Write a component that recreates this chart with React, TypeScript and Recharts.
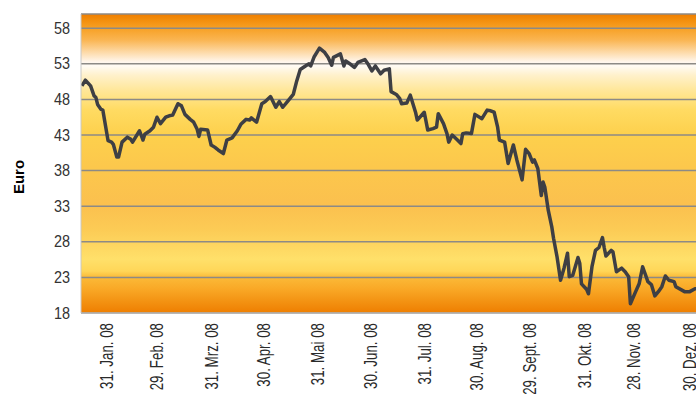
import React from "react";
import { LineChart, Line, XAxis, YAxis, CartesianGrid } from "recharts";

// Day of year (2008) and closing price in Euro
const days = [
  17, 19, 22, 24, 25, 26, 28, 29, 32, 34, 35, 37, 38, 40, 43, 45, 46, 50, 52, 53,
  56, 58, 60, 62, 65, 67, 69, 72, 74, 76, 79, 81, 83, 84, 85, 89, 91, 93, 95, 98,
  100, 103, 106, 108, 111, 113, 114, 117, 120, 122, 125, 128, 130, 132, 135, 138, 140, 142, 145, 147,
  148, 150, 153, 156, 158, 160, 161, 165, 167, 168, 171, 173, 175, 179, 181, 183, 185, 188, 190, 193,
  194, 197, 199, 200, 203, 205, 208, 209, 213, 215, 218, 220, 221, 224, 226, 227, 229, 232, 234, 235,
  237, 240, 242, 246, 249, 251, 253, 255, 256, 259, 261, 264, 266, 269, 271, 273, 275, 276, 278, 280,
  281, 282, 284, 286, 287, 289, 291, 293, 295, 296, 298, 301, 302, 303, 306, 307, 309, 311, 313, 315,
  316, 317, 320, 321, 323, 326, 328, 330, 331, 334, 336, 338, 341, 343, 345, 347, 349, 351, 353, 356,
  357, 362, 365, 368, 371,
];

const prices = [
  49.9, 50.7, 49.9, 48.5, 48.3, 47.3, 46.6, 46.5, 42.2, 42.0, 41.7, 39.9, 39.9, 42.0, 42.7, 42.4, 42.0, 43.6, 42.3, 43.1,
  43.6, 44.1, 45.5, 44.6, 45.5, 45.7, 45.8, 47.4, 47.1, 45.9, 45.2, 44.8, 43.8, 42.8, 43.8, 43.7, 41.6, 41.3, 40.9, 40.4,
  42.3, 42.6, 43.6, 44.5, 45.2, 45.1, 45.4, 44.8, 47.4, 47.7, 48.4, 46.9, 47.7, 46.9, 47.8, 48.7, 50.6, 52.2, 52.7, 53.0,
  52.7, 54.0, 55.2, 54.6, 53.9, 52.8, 53.9, 54.4, 52.7, 53.4, 52.9, 52.5, 53.2, 53.6, 52.9, 52.0, 52.7, 51.6, 52.1, 52.3,
  49.1, 48.7, 48.1, 47.4, 47.5, 48.6, 46.2, 45.1, 46.2, 43.7, 43.9, 44.1, 46.0, 44.6, 43.2, 42.0, 43.0, 42.3, 41.8, 43.2,
  43.3, 43.2, 45.9, 45.3, 46.5, 46.4, 46.2, 44.1, 42.3, 42.0, 39.0, 41.6, 39.5, 36.7, 41.0, 40.4, 39.2, 39.5, 38.3, 34.5,
  36.4, 35.7, 32.4, 30.1, 28.5, 25.9, 22.6, 24.3, 26.4, 23.1, 23.3, 25.8, 25.0, 22.1, 21.3, 20.7, 24.5, 26.8, 27.2, 28.6,
  27.2, 26.0, 26.8, 26.6, 23.8, 24.3, 23.8, 23.1, 19.3, 21.0, 22.1, 24.5, 22.4, 22.0, 20.4, 21.0, 21.7, 23.2, 22.6, 22.4,
  21.7, 21.0, 21.0, 21.4, 21.5,
];

const labelDays = [31, 60, 91, 121, 152, 182, 213, 243, 273, 305, 333, 365];
const labelTexts = [
  "31. Jan. 08",
  "29. Feb. 08",
  "31. Mrz. 08",
  "30. Apr. 08",
  "31. Mai 08",
  "30. Jun. 08",
  "31. Jul. 08",
  "30. Aug. 08",
  "29. Sept. 08",
  "31. Okt. 08",
  "28. Nov. 08",
  "30. Dez. 08",
];

const yTicks = [18, 23, 28, 33, 38, 43, 48, 53, 58];

const data = days.map((d, i) => ({ day: d, price: prices[i] }));

const sans = "'Liberation Sans', Arial, sans-serif";

// narrow look: regular sans squeezed along the text direction
const DateTick = (props: any) => {
  const { x, y, payload } = props;
  const idx = labelDays.indexOf(payload.value);
  return (
    <g transform={`translate(${x},${y}) rotate(-90)`}>
      <text
        x={0}
        y={0}
        transform="scale(0.74,1)"
        textAnchor="end"
        dy="0.36em"
        fontSize={18}
        fontFamily={sans}
        fill="#2a2a2a"
      >
        {labelTexts[idx]}
      </text>
    </g>
  );
};

const ValueTick = (props: any) => {
  const { x, y, payload } = props;
  return (
    <g transform={`translate(${x},${y})`}>
      <text
        x={0}
        y={0}
        transform="scale(0.85,1)"
        textAnchor="end"
        dy="0.33em"
        fontSize={17}
        fontFamily={sans}
        fill="#333"
      >
        {payload.value}
      </text>
    </g>
  );
};

export default function App() {
  return (
    <div
      style={{
        position: "fixed",
        left: 0,
        top: 0,
        width: 696,
        height: 397,
        overflow: "hidden",
        background: "#fff",
      }}
    >
      <div
        style={{
          position: "absolute",
          left: 18,
          top: 177,
          transform: "translate(-50%, -50%) rotate(-90deg)",
          fontFamily: sans,
          fontWeight: "bold",
          fontSize: 15,
          color: "#000",
          whiteSpace: "nowrap",
        }}
      >
        Euro
      </div>
      <LineChart
        width={720}
        height={397}
        data={data}
        margin={{ top: 14, right: 4, bottom: 0, left: 0 }}
      >
        <defs>
          <linearGradient id="bg" x1="0" y1="0" x2="0" y2="1">
            <stop offset="0" stopColor="#ee7d00" />
            <stop offset="0.02" stopColor="#f38e0c" />
            <stop offset="0.047" stopColor="#f7a024" />
            <stop offset="0.087" stopColor="#fab552" />
            <stop offset="0.127" stopColor="#fdd9a6" />
            <stop offset="0.16" stopColor="#fff6ec" />
            <stop offset="0.174" stopColor="#fffbf4" />
            <stop offset="0.204" stopColor="#fff1cc" />
            <stop offset="0.254" stopColor="#ffe79a" />
            <stop offset="0.321" stopColor="#ffdb62" />
            <stop offset="0.405" stopColor="#fdd04c" />
            <stop offset="0.52" stopColor="#fcc74c" />
            <stop offset="0.64" stopColor="#fbc04e" />
            <stop offset="0.72" stopColor="#fccb55" />
            <stop offset="0.82" stopColor="#ffe06a" />
            <stop offset="0.86" stopColor="#ffd658" />
            <stop offset="0.88" stopColor="#fbba38" />
            <stop offset="0.92" stopColor="#f9a826" />
            <stop offset="1" stopColor="#ee7e00" />
          </linearGradient>
        </defs>
        <CartesianGrid
          vertical={false}
          stroke="#8c8a86"
          strokeWidth={1.5}
          fill="url(#bg)"
          fillOpacity={1}
        />
        <XAxis
          dataKey="day"
          type="number"
          domain={[16.5, 380]}
          ticks={labelDays}
          interval={0}
          height={84}
          tickLine={false}
          tickSize={6}
          tickMargin={4}
          axisLine={{ stroke: "#c8c8c8" }}
          tick={<DateTick />}
          allowDataOverflow
        />
        <YAxis
          type="number"
          domain={[18, 60]}
          ticks={yTicks}
          interval={0}
          width={81}
          tickLine={false}
          tickSize={6}
          tickMargin={5}
          axisLine={{ stroke: "#c8c8c8" }}
          tick={<ValueTick />}
          allowDataOverflow
        />
        <Line
          type="linear"
          dataKey="price"
          stroke="#3e3f44"
          strokeWidth={3.5}
          strokeLinejoin="round"
          dot={false}
          isAnimationActive={false}
        />
      </LineChart>
    </div>
  );
}
